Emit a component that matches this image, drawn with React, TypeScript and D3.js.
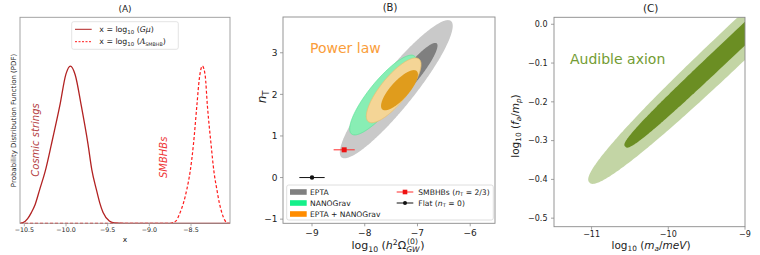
import React from 'react';
import * as d3 from 'd3';

const FONT = "'DejaVu Sans', sans-serif";
const SPINE = '#8a8a8a';
const INK = '#222';

// ---- (A) posterior PDFs (peak normalised to 1) ----
const gmuX = [-10.552, -10.516, -10.46, -10.416, -10.37, -10.315, -10.25, -10.176, -10.075, -10.0, -9.948, -9.89,
  -9.816, -9.735, -9.69, -9.636, -9.595, -9.555, -9.48, -9.415, -9.3, -9.0, -8.5, -8.032];
const gmuPdf = [0, 0.004, 0.03, 0.068, 0.12, 0.216, 0.33, 0.5, 0.746, 0.95, 1.0, 0.945,
  0.746, 0.5, 0.34, 0.216, 0.13, 0.068, 0.015, 0.002, 0, 0, 0, 0];
const smbhbX = [-10.552, -9.5, -8.9, -8.76, -8.731, -8.68, -8.631, -8.59, -8.55, -8.51, -8.471, -8.43,
  -8.4, -8.363, -8.33, -8.303, -8.259, -8.225, -8.19, -8.16, -8.13, -8.095, -8.063, -8.032];
const smbhbPdf = [0, 0, 0, 0, 0.002, 0.015, 0.068, 0.13, 0.216, 0.33, 0.5, 0.746,
  0.92, 1.0, 0.94, 0.746, 0.5, 0.33, 0.216, 0.13, 0.068, 0.02, 0.002, 0];
const ticksA = [-10.5, -10.0, -9.5, -9.0, -8.5];

// ---- (B) power-law contours: centre, end of major axis, width/length ----
interface Contour { cx: number; cy: number; tx: number; ty: number; ratio: number; n: number; fill: string; stroke?: string }
const contoursB: Contour[] = [
  { cx: -7.402, cy: 2.124, tx: -6.365, ty: 3.763, ratio: 0.205, n: 2, fill: '#c9c9c9' },   // EPTA 2σ
  { cx: -7.114, cy: 2.479, tx: -6.636, ty: 3.227, ratio: 0.21, n: 2, fill: '#7f7f7f' },    // EPTA 1σ
  { cx: -7.654, cy: 1.984, tx: -7.057, ty: 2.919, ratio: 0.28, n: 2, fill: '#88eeb4', stroke: '#5fe39a' }, // NANOGrav
  { cx: -7.451, cy: 2.097, tx: -6.971, ty: 2.849, ratio: 0.33, n: 2, fill: '#f4d596', stroke: '#eac070' }, // combined 2σ
  { cx: -7.341, cy: 2.1, tx: -7.015, ty: 2.561, ratio: 0.35, n: 2, fill: '#e09c1c' },      // combined 1σ
];
const smbhbPoint = { x: -8.39, y: 2 / 3, err: 0.2 };
const flatPoint = { x: -9.0, y: 0, err: 0.24 };
const ticksBx = [-9, -8, -7, -6];
const ticksBy = [-1, 0, 1, 2, 3];

// ---- (C) audible axion contours ----
const contoursC: Contour[] = [
  { cx: -9.134, cy: -0.053, tx: -11.028, ty: -0.408, ratio: 0.09, n: 2.4, fill: '#c3d5a5' },
  { cx: -9.134, cy: -0.049, tx: -10.561, ty: -0.3155, ratio: 0.057, n: 3, fill: '#6b8e23' },
];
const ticksCx = [-11, -10, -9];
const ticksCy = [0, -0.1, -0.2, -0.3, -0.4, -0.5];

type Lin = d3.ScaleLinear<number, number>;

function contourPath(c: Contour, x: Lin, y: Lin) {
  const cx = x(c.cx), cy = y(c.cy);
  const ux = x(c.tx) - cx, uy = y(c.ty) - cy;
  const a = Math.hypot(ux, uy);
  const b = a * c.ratio;
  const ex = ux / a, ey = uy / a;
  const e = 2 / c.n;
  const pts = d3.range(0, 360, 1).map(deg => {
    const t = (deg * Math.PI) / 180;
    const ct = Math.cos(t), st = Math.sin(t);
    const u = a * Math.sign(ct) * Math.abs(ct) ** e;
    const v = b * Math.sign(st) * Math.abs(st) ** e;
    return [cx + ex * u - ey * v, cy + ey * u + ex * v] as [number, number];
  });
  return d3.line().curve(d3.curveLinearClosed)(pts) || '';
}

function Frame({ x, y, xTicks, yTicks, fmtX, fmtY, fs, xOff, yOff, stroke = SPINE }: {
  x: Lin; y: Lin; xTicks: number[]; yTicks: number[]; fmtX: (v: number) => string; fmtY: (v: number) => string;
  fs: number; xOff: number; yOff: number; stroke?: string;
}) {
  const [x0, x1] = x.range();
  const [y0, y1] = y.range();
  return (
    <g>
      <rect x={x0} y={y1} width={x1 - x0} height={y0 - y1} fill="none" stroke={stroke} strokeWidth={0.9} />
      {xTicks.map(t => (
        <g key={'x' + t}>
          <line x1={x(t)} x2={x(t)} y1={y0} y2={y0 + 3} stroke={stroke} strokeWidth={0.8} />
          <text x={x(t)} y={y0 + xOff} fontSize={fs} textAnchor="middle" fill={INK}>{fmtX(t)}</text>
        </g>
      ))}
      {yTicks.map(t => (
        <g key={'y' + t}>
          <line x1={x0 - 3} x2={x0} y1={y(t)} y2={y(t)} stroke={stroke} strokeWidth={0.8} />
          <text x={x0 - yOff} y={y(t) + fs * 0.36} fontSize={fs} textAnchor="end" fill={INK}>{fmtY(t)}</text>
        </g>
      ))}
    </g>
  );
}

export default function App() {
  // panel A
  const xA = d3.scaleLinear().domain([-10.552, -8.032]).range([20, 230]);
  const yA = d3.scaleLinear().domain([0, 1.31]).range([223.3, 17.3]);
  const lineA = (xs: number[], ys: number[]) =>
    d3.line<number>().x((_, i) => xA(xs[i])).y(d => yA(d)).curve(d3.curveMonotoneX)(ys) || '';

  // panel B
  const xB = d3.scaleLinear().domain([-9.55, -5.53]).range([283, 495]);
  const yB = d3.scaleLinear().domain([-1.1, 3.86]).range([223.3, 17]);

  // panel C
  const xC = d3.scaleLinear().domain([-11.49, -9.0]).range([554, 745]);
  const yC = d3.scaleLinear().domain([-0.522, 0.018]).range([226.7, 17.3]);

  const f1 = d3.format('.1f');
  const fd = d3.format('d');

  const legB = [
    { label: 'EPTA', color: '#808080' },
    { label: 'NANOGrav', color: '#14f08a' },
    { label: 'EPTA + NANOGrav', color: '#ff8c00' },
  ];
  const rowsB = [192, 203, 214];

  return (
    <svg width={760} height={255} fontFamily={FONT}
      style={{ position: 'absolute', left: 0, top: 0, background: '#fff' }}>
      <defs>
        <clipPath id="clipC"><rect x={554} y={17.3} width={191} height={209.4} /></clipPath>
        <clipPath id="clipB"><rect x={283} y={17} width={212} height={206.3} /></clipPath>
      </defs>

      {/* ---------- (A) ---------- */}
      <text x={125} y={11.5} fontSize={9} textAnchor="middle" fill={INK}>(A)</text>
      <path d={lineA(gmuX, gmuPdf)} fill="none" stroke="#b22222" strokeWidth={1.3} />
      <path d={lineA(smbhbX, smbhbPdf)} fill="none" stroke="#ff1a1a" strokeWidth={1.2} strokeDasharray="3 2" />
      <Frame x={xA} y={yA} xTicks={ticksA} yTicks={[]} fmtX={f1} fmtY={f1} fs={6.3} xOff={8.2} yOff={5} stroke="#9a9a9a" />
      <text x={125} y={241.5} fontSize={7.5} textAnchor="middle" fill={INK}>x</text>
      <text transform="translate(14,120.5) rotate(-90)" fontSize={7} textAnchor="middle" dy="0.35em" fill={INK}>
        Probability Distribution Function (PDF)
      </text>
      <text transform="translate(35.3,140) rotate(-90)" fontSize={10} fontStyle="italic" textAnchor="middle"
        dy="0.35em" fill="#b5403f">Cosmic strings</text>
      <text transform="translate(163.3,157.3) rotate(-90)" fontSize={10} fontStyle="italic" textAnchor="middle"
        dy="0.35em" fill="#ee3535">SMBHBs</text>
      <rect x={71.7} y={21.7} width={106.6} height={27.6} rx={2} fill="#fff" fillOpacity={0.85} stroke="#dcdcdc" strokeWidth={0.8} />
      <line x1={75} x2={91.7} y1={29.3} y2={29.3} stroke="#b22222" strokeWidth={1} />
      <line x1={75} x2={91.7} y1={41.7} y2={41.7} stroke="#ff1a1a" strokeWidth={1} strokeDasharray="2 1.5" />
      <text x={99.3} y={32} fontSize={7.8} fill={INK}>
        x = log<tspan dy={1.8} fontSize={5.4}>10</tspan><tspan dy={-1.8}> (</tspan>
        <tspan fontStyle="italic">Gμ</tspan>)
      </text>
      <text x={99.3} y={44.4} fontSize={7.8} fill={INK}>
        x = log<tspan dy={1.8} fontSize={5.4}>10</tspan><tspan dy={-1.8}> (</tspan>
        <tspan fontStyle="italic" fontFamily="'DejaVu Serif', serif">A</tspan>
        <tspan dy={1.6} fontSize={4.8}>SMBHB</tspan><tspan dy={-1.6}>)</tspan>
      </text>

      {/* ---------- (B) ---------- */}
      <text x={390} y={11} fontSize={10} textAnchor="middle" fill={INK}>(B)</text>
      <g clipPath="url(#clipB)">
        {contoursB.map((c, i) => (
          <path key={i} d={contourPath(c, xB, yB)} fill={c.fill} stroke={c.stroke || 'none'} strokeWidth={0.8} />
        ))}
      </g>
      <text x={310} y={53} fontSize={14} fill="#fa9d3a">Power law</text>
      <line x1={xB(smbhbPoint.x - smbhbPoint.err)} x2={xB(smbhbPoint.x + smbhbPoint.err)}
        y1={yB(smbhbPoint.y)} y2={yB(smbhbPoint.y)} stroke="#ff2a2a" strokeWidth={1} />
      <rect x={xB(smbhbPoint.x) - 2.5} y={yB(smbhbPoint.y) - 2.5} width={5} height={5} fill="#ee1111" />
      <line x1={xB(flatPoint.x - flatPoint.err)} x2={xB(flatPoint.x + flatPoint.err)}
        y1={yB(flatPoint.y)} y2={yB(flatPoint.y)} stroke="#111" strokeWidth={1} />
      <circle cx={xB(flatPoint.x)} cy={yB(flatPoint.y)} r={2.2} fill="#111" />
      <Frame x={xB} y={yB} xTicks={ticksBx} yTicks={ticksBy} fmtX={fd} fmtY={fd} fs={9} xOff={12.6} yOff={5.5} />
      <text transform="translate(262,97) rotate(-90)" fontSize={12} textAnchor="middle" dy="0.35em" fill={INK}>
        <tspan fontStyle="italic">n</tspan><tspan dy={2.5} fontSize={8.4}>T</tspan>
      </text>
      <text x={388} y={249} fontSize={11} textAnchor="middle" fill={INK}>
        log<tspan dy={2.8} fontSize={7.7}>10</tspan><tspan dy={-2.8}> (</tspan>
        <tspan fontStyle="italic">h</tspan><tspan dy={-4.5} fontSize={7.7}>2</tspan><tspan dy={4.5}>Ω</tspan>
        <tspan dy={3} fontSize={7.7} fontStyle="italic">GW</tspan>
        <tspan dx={-12.6} dy={-8.2} fontSize={7.7}>(0)</tspan>
        <tspan dx={2.2} dy={5.2}>)</tspan>
      </text>
      <rect x={286.7} y={185} width={206.6} height={35} rx={2} fill="#fff" fillOpacity={0.9} stroke="#d6d6d6" strokeWidth={0.8} />
      {legB.map((d, i) => (
        <g key={d.label}>
          <rect x={290} y={rowsB[i] - 2.8} width={16.7} height={5.6} fill={d.color} />
          <text x={310} y={rowsB[i] + 2.8} fontSize={7.6} fill={INK}>{d.label}</text>
        </g>
      ))}
      <line x1={396.7} x2={413.3} y1={rowsB[0]} y2={rowsB[0]} stroke="#ff2a2a" strokeWidth={1} />
      <rect x={402.7} y={rowsB[0] - 2.3} width={4.6} height={4.6} fill="#ee1111" />
      <text x={418.3} y={rowsB[0] + 2.8} fontSize={7.6} fill={INK}>
        SMBHBs (<tspan fontStyle="italic">n</tspan><tspan dy={1.5} fontSize={5.3}>T</tspan><tspan dy={-1.5}> = 2/3)</tspan>
      </text>
      <line x1={396.7} x2={413.3} y1={rowsB[1]} y2={rowsB[1]} stroke="#111" strokeWidth={1} />
      <circle cx={405} cy={rowsB[1]} r={2} fill="#111" />
      <text x={418.3} y={rowsB[1] + 2.8} fontSize={7.6} fill={INK}>
        Flat (<tspan fontStyle="italic">n</tspan><tspan dy={1.5} fontSize={5.3}>T</tspan><tspan dy={-1.5}> = 0)</tspan>
      </text>

      {/* ---------- (C) ---------- */}
      <text x={650.7} y={12} fontSize={10.5} textAnchor="middle" fill={INK}>(C)</text>
      <g clipPath="url(#clipC)">
        {contoursC.map((c, i) => (
          <path key={i} d={contourPath(c, xC, yC)} fill={c.fill} />
        ))}
      </g>
      <text x={570} y={64} fontSize={14} fill="#739c33">Audible axion</text>
      <Frame x={xC} y={yC} xTicks={ticksCx} yTicks={ticksCy} fmtX={fd} fmtY={f1} fs={8} xOff={10.5} yOff={6.5} />
      <text x={651} y={248.5} fontSize={10.5} textAnchor="middle" fill={INK}>
        log<tspan dy={2.6} fontSize={7.3}>10</tspan><tspan dy={-2.6}> (</tspan>
        <tspan fontStyle="italic">m</tspan><tspan dy={2.4} fontSize={7.3} fontStyle="italic">a</tspan>
        <tspan dy={-2.4}>/</tspan><tspan fontStyle="italic">meV</tspan>)
      </text>
      <text transform="translate(515,126) rotate(-90)" fontSize={10.5} textAnchor="middle" dy="0.35em" fill={INK}>
        log<tspan dy={2.6} fontSize={7.3}>10</tspan><tspan dy={-2.6}> (</tspan>
        <tspan fontStyle="italic">f</tspan><tspan dy={2.4} fontSize={7.3} fontStyle="italic">a</tspan>
        <tspan dy={-2.4}>/</tspan><tspan fontStyle="italic">m</tspan>
        <tspan dy={2.4} fontSize={7.3} fontStyle="italic">p</tspan><tspan dy={-2.4}>)</tspan>
      </text>
    </svg>
  );
}
